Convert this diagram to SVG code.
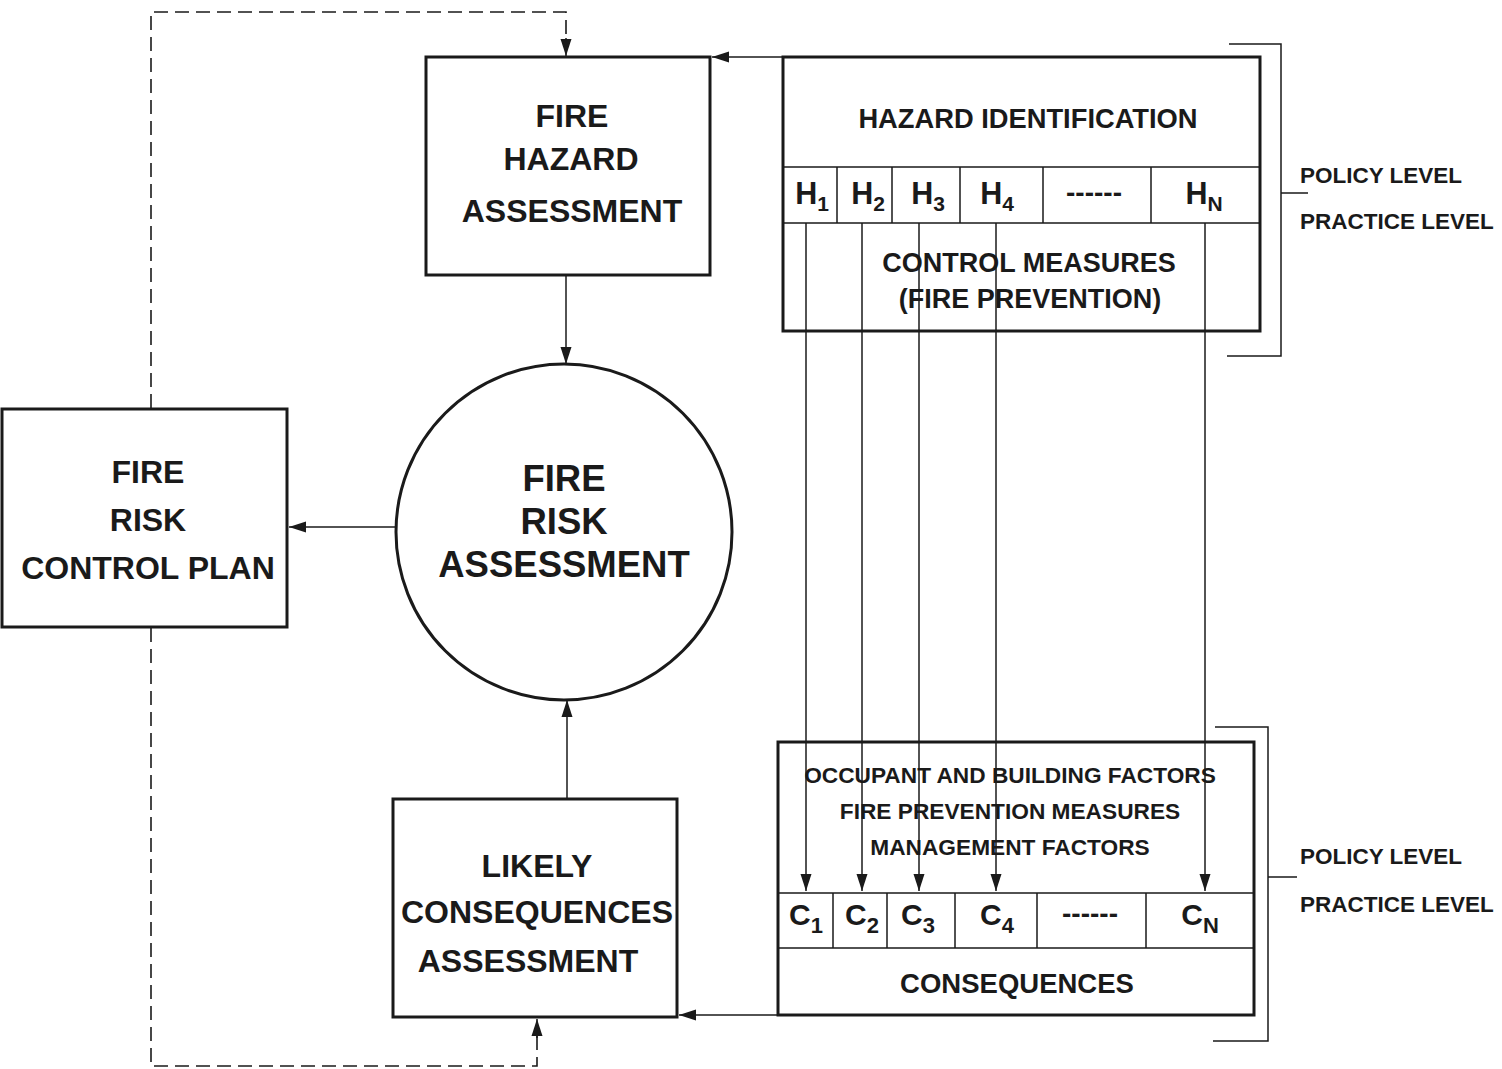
<svg xmlns="http://www.w3.org/2000/svg" width="1502" height="1069" viewBox="0 0 1502 1069">
<defs>
<marker id="ah" markerUnits="userSpaceOnUse" markerWidth="20" markerHeight="12" refX="17" refY="6" orient="auto">
<path d="M0,0.5 L17,6 L0,11.5 Z" fill="#1a1a1a"/>
</marker>
</defs>
<style>
.box{fill:#fff;stroke:#1a1a1a;stroke-width:3}
.div{fill:none;stroke:#1a1a1a;stroke-width:1.5}
.ln{fill:none;stroke:#1a1a1a;stroke-width:1.5}
.dash{fill:none;stroke:#1a1a1a;stroke-width:1.6;stroke-dasharray:14 7}
text{font-family:"Liberation Sans",Arial,sans-serif;font-weight:bold;fill:#1a1a1a}
.c{text-anchor:middle}
</style>
<rect width="1502" height="1069" fill="#fff"/>

<g id="fire-hazard-assessment">
<rect class="box" x="426" y="57" width="284" height="218"/>
<text class="c" x="572" y="127" font-size="32">FIRE</text>
<text class="c" x="571" y="170" font-size="32">HAZARD</text>
<text class="c" x="572" y="222" font-size="32">ASSESSMENT</text>
</g>

<g id="fire-risk-assessment">
<circle cx="564" cy="532" r="168" fill="#fff" stroke="#1a1a1a" stroke-width="3"/>
<text class="c" x="564" y="491" font-size="36.5">FIRE</text>
<text class="c" x="564" y="534" font-size="36.5">RISK</text>
<text class="c" x="564" y="577" font-size="36.5">ASSESSMENT</text>
</g>

<g id="fire-risk-control-plan">
<rect class="box" x="2" y="409" width="285" height="218"/>
<text class="c" x="148" y="483" font-size="32">FIRE</text>
<text class="c" x="148" y="531" font-size="32">RISK</text>
<text class="c" x="148" y="579" font-size="32">CONTROL PLAN</text>
</g>

<g id="likely-consequences-assessment">
<rect class="box" x="393" y="799" width="284" height="218"/>
<text class="c" x="537" y="877" font-size="32">LIKELY</text>
<text class="c" x="537" y="923" font-size="32">CONSEQUENCES</text>
<text class="c" x="528" y="972" font-size="32">ASSESSMENT</text>
</g>

<g id="hazard-identification">
<rect class="box" x="783" y="57" width="477" height="274"/>
<path class="div" d="M783,167 H1260 M783,223 H1260 M837,167 V223 M892,167 V223 M960,167 V223 M1043,167 V223 M1151,167 V223"/>
<text class="c" x="1028" y="128" font-size="27.3">HAZARD IDENTIFICATION</text>
<text class="c" x="812" y="204" font-size="30.5">H<tspan font-size="21" dy="7">1</tspan></text>
<text class="c" x="868" y="204" font-size="30.5">H<tspan font-size="21" dy="7">2</tspan></text>
<text class="c" x="928" y="204" font-size="30.5">H<tspan font-size="21" dy="7">3</tspan></text>
<text class="c" x="997" y="204" font-size="30.5">H<tspan font-size="21" dy="7">4</tspan></text>
<text class="c" x="1094" y="202" font-size="28">------</text>
<text class="c" x="1204" y="204" font-size="30.5">H<tspan font-size="21" dy="7">N</tspan></text>
<text class="c" x="1029" y="272" font-size="27">CONTROL MEASURES</text>
<text class="c" x="1030" y="308" font-size="27">(FIRE PREVENTION)</text>
</g>

<g id="consequences">
<rect class="box" x="778" y="742" width="476" height="273"/>
<path class="div" d="M778,893 H1254 M778,948 H1254 M833,893 V948 M887,893 V948 M955,893 V948 M1037,893 V948 M1146,893 V948"/>
<text class="c" x="1010" y="783" font-size="22.7">OCCUPANT AND BUILDING FACTORS</text>
<text class="c" x="1010" y="819" font-size="22.7">FIRE PREVENTION MEASURES</text>
<text class="c" x="1010" y="855" font-size="22.7">MANAGEMENT FACTORS</text>
<text class="c" x="806" y="925" font-size="30">C<tspan font-size="22" dy="8">1</tspan></text>
<text class="c" x="862" y="925" font-size="30">C<tspan font-size="22" dy="8">2</tspan></text>
<text class="c" x="918" y="925" font-size="30">C<tspan font-size="22" dy="8">3</tspan></text>
<text class="c" x="997" y="925" font-size="30">C<tspan font-size="22" dy="8">4</tspan></text>
<text class="c" x="1090" y="923" font-size="28">------</text>
<text class="c" x="1200" y="925" font-size="30">C<tspan font-size="22" dy="8">N</tspan></text>
<text class="c" x="1017" y="993" font-size="27.5">CONSEQUENCES</text>
</g>

<g id="level-brackets">
<path class="ln" d="M1229,44 H1281 V356 H1227 M1281,193 H1308"/>
<text x="1300" y="183" font-size="22.5">POLICY LEVEL</text>
<text x="1300" y="229" font-size="22.5">PRACTICE LEVEL</text>
<path class="ln" d="M1215,727 H1268 V1041 H1213 M1268,877 H1297"/>
<text x="1300" y="864" font-size="22.5">POLICY LEVEL</text>
<text x="1300" y="912" font-size="22.5">PRACTICE LEVEL</text>
</g>

<g id="connectors">
<line class="ln" x1="566" y1="275" x2="566" y2="364" marker-end="url(#ah)"/>
<line class="ln" x1="395" y1="527" x2="289" y2="527" marker-end="url(#ah)"/>
<line class="ln" x1="567" y1="799" x2="567" y2="700" marker-end="url(#ah)"/>
<line class="ln" x1="783" y1="57" x2="712" y2="57" marker-end="url(#ah)"/>
<line class="ln" x1="778" y1="1015" x2="679" y2="1015" marker-end="url(#ah)"/>
<line class="ln" x1="806" y1="223" x2="806" y2="891" marker-end="url(#ah)"/>
<line class="ln" x1="862" y1="223" x2="862" y2="891" marker-end="url(#ah)"/>
<line class="ln" x1="919" y1="223" x2="919" y2="891" marker-end="url(#ah)"/>
<line class="ln" x1="996" y1="223" x2="996" y2="891" marker-end="url(#ah)"/>
<line class="ln" x1="1205" y1="223" x2="1205" y2="891" marker-end="url(#ah)"/>
<path class="dash" d="M151,408 V12 H566 V40"/>
<line class="ln" x1="566" y1="38" x2="566" y2="56" marker-end="url(#ah)"/>
<path class="dash" d="M151,628 V1066 H537 V1036"/>
<line class="ln" x1="537" y1="1038" x2="537" y2="1019" marker-end="url(#ah)"/>
</g>
</svg>
